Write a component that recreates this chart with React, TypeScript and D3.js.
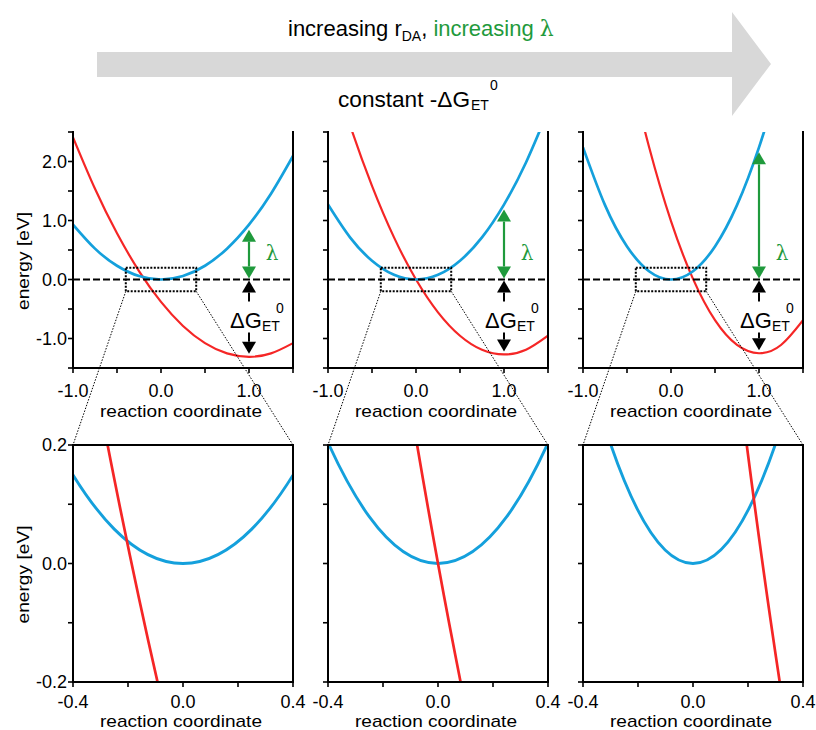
import React from "react";
import * as d3 from "d3";

// ---- data ----
const xSamples = [-1, -0.75, -0.5, -0.25, 0, 0.25, 0.5, 0.75, 1, 1.25, 1.5];
const reactantPanel1 = [0.93, 0.523, 0.233, 0.058, 0, 0.058, 0.233, 0.523, 0.93, 1.453, 2.093];
const productPanel1 = [2.41, 1.538, 0.783, 0.143, -0.38, -0.787, -1.078, -1.252, -1.31, -1.252, -1.078];
const reactantPanel2 = [1.27, 0.714, 0.318, 0.079, 0, 0.079, 0.318, 0.714, 1.27, 1.984, 2.858];
const productPanel2 = [3.81, 2.619, 1.588, 0.714, 0, -0.556, -0.953, -1.191, -1.27, -1.191, -0.953];
const reactantPanel3 = [2.24, 1.26, 0.56, 0.14, 0, 0.14, 0.56, 1.26, 2.24, 3.5, 5.04];
const productPanel3 = [7.71, 5.61, 3.79, 2.25, 0.99, 0.01, -0.69, -1.11, -1.25, -1.11, -0.69];
const lambdaValues = [0.93, 1.27, 2.24];
const deltaGValues = [-1.31, -1.27, -1.25];
const arrowX = 1.0;
const lambdaLabelY = 0.45;

const topXDomain = [-1, 1.5];
const topYDomain = [-1.5, 2.5];
const topXTicks = [-1, -0.5, 0, 0.5, 1, 1.5];
const topXLabels = [-1, 0, 1];
const topYTicks = [-1.5, -1, -0.5, 0, 0.5, 1, 1.5, 2, 2.5];
const topYLabels = [-1, 0, 1, 2];

const zoomXDomain = [-0.4, 0.4];
const zoomYDomain = [-0.2, 0.2];
const zoomXTicks = [-0.4, -0.2, 0, 0.2, 0.4];
const zoomXLabels = [-0.4, 0, 0.4];
const zoomYTicks = [-0.2, -0.1, 0, 0.1, 0.2];
const zoomYLabels = [-0.2, 0, 0.2];

const reactantSeries = [reactantPanel1, reactantPanel2, reactantPanel3];
const productSeries = [productPanel1, productPanel2, productPanel3];

// ---- styling / layout ----
const BLUE = "#14a0dc";
const RED = "#f52626";
const GREEN = "#1f9a3c";
const SANS = "'Liberation Sans', Arial, Helvetica, sans-serif";
const SERIF = "'DejaVu Serif', 'Liberation Serif', serif";
const panelLefts = [73, 328, 583];
const PW = 220;
const TOP_Y0 = 132, TOP_Y1 = 368;
const BOT_Y0 = 445, BOT_Y1 = 682;
const TICK_FS = 18;

const fmt = (v: number) => v.toFixed(1);

function head(x: number, tip: number, dir: number, w: number, h: number, fill: string) {
  const base = tip - dir * h;
  return <polygon points={`${x},${tip} ${x - w / 2},${base} ${x + w / 2},${base}`} fill={fill} />;
}

function TopPanel({ i }: { i: number }) {
  const left = panelLefts[i];
  const x = d3.scaleLinear().domain(topXDomain).range([left, left + PW]);
  const y = d3.scaleLinear().domain(topYDomain).range([TOP_Y1, TOP_Y0]);
  const line = d3
    .line<number>()
    .x((_, k) => x(xSamples[k]))
    .y((d) => y(d))
    .curve(d3.curveNatural);
  const clipId = `clipTop${i}`;
  const y0 = y(0);
  const ax = x(arrowX);
  const yL = y(lambdaValues[i]);
  const yG = y(deltaGValues[i]);
  const hw = 14, hh = 12;
  return (
    <g>
      <defs>
        <clipPath id={clipId}>
          <rect x={left} y={TOP_Y0} width={PW} height={TOP_Y1 - TOP_Y0} />
        </clipPath>
      </defs>
      <g clipPath={`url(#${clipId})`}>
        <path d={line(productSeries[i]) || ""} fill="none" stroke={RED} strokeWidth={2.2} />
        <path d={line(reactantSeries[i]) || ""} fill="none" stroke={BLUE} strokeWidth={2.7} />
      </g>
      <line x1={left} x2={left + PW} y1={y0} y2={y0} stroke="#000" strokeWidth={2} strokeDasharray="7,3" />
      <rect
        x={x(zoomXDomain[0])}
        y={y(zoomYDomain[1])}
        width={x(zoomXDomain[1]) - x(zoomXDomain[0])}
        height={y(zoomYDomain[0]) - y(zoomYDomain[1])}
        fill="none"
        stroke="#000"
        strokeWidth={2}
        strokeDasharray="2,1.5"
      />
      <line x1={ax} x2={ax} y1={yL + 5 + hh} y2={y0 - 1 - hh} stroke={GREEN} strokeWidth={2.2} />
      {head(ax, yL + 5, -1, hw, hh, GREEN)}
      {head(ax, y0 - 1, 1, hw, hh, GREEN)}
      <text x={ax + 23} y={y(lambdaLabelY)} dy="0.35em" textAnchor="middle" fontFamily={SERIF} fontSize={20} fill={GREEN}>
        λ
      </text>
      <line x1={ax} x2={ax} y1={y0 + 1 + hh} y2={y0 + 22} stroke="#000" strokeWidth={2} />
      {head(ax, y0 + 1, -1, hw, hh, "#000")}
      <line x1={ax} x2={ax} y1={y0 + 53} y2={yG - 3 - hh} stroke="#000" strokeWidth={2} />
      {head(ax, yG - 3, 1, hw, hh, "#000")}
      <text x={ax - 19} y={y0 + 48} fontFamily={SANS} fontSize={22} fill="#000">ΔG</text>
      <text x={ax + 13} y={y0 + 51} fontFamily={SANS} fontSize={14} fill="#000">ET</text>
      <text x={ax + 27} y={y0 + 33} fontFamily={SANS} fontSize={14} fill="#000">0</text>
      <line x1={left} x2={left} y1={TOP_Y0 - 1} y2={TOP_Y1 + 1} stroke="#000" strokeWidth={2} />
      <line x1={left + PW} x2={left + PW} y1={TOP_Y0 - 1} y2={TOP_Y1 + 1} stroke="#000" strokeWidth={2} />
      <line x1={left - 1} x2={left + PW + 1} y1={TOP_Y1} y2={TOP_Y1} stroke="#000" strokeWidth={2} />
      {topXTicks.map((t) => (
        <line key={`xt${t}`} x1={x(t)} x2={x(t)} y1={TOP_Y1} y2={TOP_Y1 + 5} stroke="#000" strokeWidth={1.6} />
      ))}
      {topYTicks.map((t) => (
        <line key={`yt${t}`} x1={left - 5} x2={left} y1={y(t)} y2={y(t)} stroke="#000" strokeWidth={1.6} />
      ))}
      {topXLabels.map((t) => (
        <text key={`xl${t}`} x={x(t)} y={TOP_Y1 + 29} textAnchor="middle" fontFamily={SANS} fontSize={TICK_FS}>
          {fmt(t)}
        </text>
      ))}
      {i === 0 &&
        topYLabels.map((t) => (
          <text key={`yl${t}`} x={left - 6} y={y(t)} dy="0.36em" textAnchor="end" fontFamily={SANS} fontSize={TICK_FS}>
            {fmt(t)}
          </text>
        ))}
      <text
        x={left + PW / 2 - 2}
        y={TOP_Y1 + 49}
        textAnchor="middle"
        fontFamily={SANS}
        fontSize={17}
        textLength={162}
        lengthAdjust="spacingAndGlyphs"
      >
        reaction coordinate
      </text>
      {i === 0 && (
        <text
          transform={`translate(29,${(TOP_Y0 + TOP_Y1) / 2 + 11}) rotate(-90)`}
          textAnchor="middle"
          fontFamily={SANS}
          fontSize={17}
          textLength={98}
          lengthAdjust="spacingAndGlyphs"
        >
          energy [eV]
        </text>
      )}
      <line x1={x(zoomXDomain[0])} y1={y(zoomYDomain[0])} x2={left} y2={BOT_Y0} stroke="#000" strokeWidth={1} strokeDasharray="1.5,1.5" />
      <line x1={x(zoomXDomain[1])} y1={y(zoomYDomain[0])} x2={left + PW} y2={BOT_Y0} stroke="#000" strokeWidth={1} strokeDasharray="1.5,1.5" />
    </g>
  );
}

function ZoomPanel({ i }: { i: number }) {
  const left = panelLefts[i];
  const x = d3.scaleLinear().domain(zoomXDomain).range([left, left + PW]);
  const y = d3.scaleLinear().domain(zoomYDomain).range([BOT_Y1, BOT_Y0]);
  const line = d3
    .line<number>()
    .x((_, k) => x(xSamples[k]))
    .y((d) => y(d))
    .curve(d3.curveNatural);
  const clipId = `clipBot${i}`;
  return (
    <g>
      <defs>
        <clipPath id={clipId}>
          <rect x={left} y={BOT_Y0} width={PW} height={BOT_Y1 - BOT_Y0} />
        </clipPath>
      </defs>
      <g clipPath={`url(#${clipId})`}>
        <path d={line(reactantSeries[i]) || ""} fill="none" stroke={BLUE} strokeWidth={2.9} />
        <path d={line(productSeries[i]) || ""} fill="none" stroke={RED} strokeWidth={2.7} />
      </g>
      <rect x={left} y={BOT_Y0} width={PW} height={BOT_Y1 - BOT_Y0} fill="none" stroke="#000" strokeWidth={2} />
      {zoomXTicks.map((t) => (
        <line key={`xt${t}`} x1={x(t)} x2={x(t)} y1={BOT_Y1} y2={BOT_Y1 + 5} stroke="#000" strokeWidth={1.6} />
      ))}
      {zoomYTicks.map((t) => (
        <line key={`yt${t}`} x1={left - 5} x2={left} y1={y(t)} y2={y(t)} stroke="#000" strokeWidth={1.6} />
      ))}
      {zoomXLabels.map((t) => (
        <text key={`xl${t}`} x={x(t)} y={BOT_Y1 + 26} textAnchor="middle" fontFamily={SANS} fontSize={TICK_FS}>
          {fmt(t)}
        </text>
      ))}
      {i === 0 &&
        zoomYLabels.map((t) => (
          <text key={`yl${t}`} x={left - 6} y={y(t)} dy="0.36em" textAnchor="end" fontFamily={SANS} fontSize={TICK_FS}>
            {fmt(t)}
          </text>
        ))}
      <text
        x={left + PW / 2 - 2}
        y={BOT_Y1 + 45}
        textAnchor="middle"
        fontFamily={SANS}
        fontSize={17}
        textLength={162}
        lengthAdjust="spacingAndGlyphs"
      >
        reaction coordinate
      </text>
      {i === 0 && (
        <text
          transform={`translate(29,${(BOT_Y0 + BOT_Y1) / 2 + 11}) rotate(-90)`}
          textAnchor="middle"
          fontFamily={SANS}
          fontSize={17}
          textLength={98}
          lengthAdjust="spacingAndGlyphs"
        >
          energy [eV]
        </text>
      )}
    </g>
  );
}

export default function App() {
  return (
    <svg
      width={816}
      height={730}
      viewBox="0 0 816 730"
      style={{ position: "absolute", left: 0, top: 0, background: "#fff" }}
    >
      <rect x={0} y={0} width={816} height={730} fill="#fff" />
      <polygon points="97,52 732,52 732,12 771,64 732,116 732,77 97,77" fill="#d8d8d8" />
      <text x={288} y={36} fontFamily={SANS} fontSize={22} fill="#000">
        increasing r
        <tspan fontSize={14} dy={5}>DA</tspan>
        <tspan dy={-5}>, </tspan>
        <tspan fill={GREEN}>increasing </tspan>
        <tspan fill={GREEN} fontFamily={SERIF}>λ</tspan>
      </text>
      <text x={338} y={107} fontFamily={SANS} fontSize={22} fill="#000" textLength={132} lengthAdjust="spacingAndGlyphs">
        constant -ΔG
      </text>
      <text x={471} y={110} fontFamily={SANS} fontSize={14} fill="#000">ET</text>
      <text x={490} y={90} fontFamily={SANS} fontSize={14} fill="#000">0</text>
      {[0, 1, 2].map((i) => (
        <TopPanel key={`t${i}`} i={i} />
      ))}
      {[0, 1, 2].map((i) => (
        <ZoomPanel key={`b${i}`} i={i} />
      ))}
    </svg>
  );
}
